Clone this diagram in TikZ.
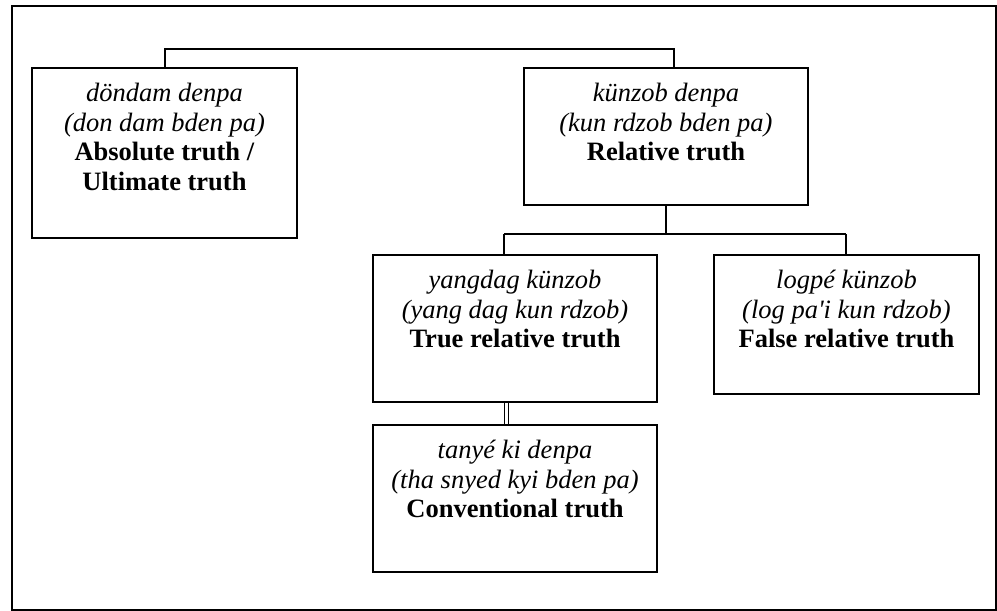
\documentclass[tikz,border=0pt]{standalone}
\usepackage{fontspec}
\setmainfont{Liberation Serif}
\begin{document}
\begin{tikzpicture}[x=1pt,y=-1pt,
  line width=2pt,
  box/.style={draw, rectangle, inner sep=0pt, anchor=north west},
  txt/.style={anchor=north, inner sep=0pt, align=center, font=\fontsize{26.5}{29.5}\selectfont},
  conn/.style={draw, line width=2pt},
  dbl/.style={draw, double, double distance=2.2pt, line width=1.1pt}]
\useasboundingbox (0,0) rectangle (997,611);
% outer frame
\draw[line width=2pt] (12,6) rectangle (995.5,609.5);
% boxes
\node[box, minimum width=265pt, minimum height=170pt] (abs) at (31,67) {};
\node[box, minimum width=284pt, minimum height=137pt] (rel) at (523,67) {};
\node[box, minimum width=284pt, minimum height=147pt] (tru) at (372,254) {};
\node[box, minimum width=265pt, minimum height=139pt] (fal) at (713,254) {};
\node[box, minimum width=284pt, minimum height=147pt] (con) at (372,424) {};
% texts
\node[txt] (absT) at ([yshift=-13pt]abs.north) {\strut\textit{döndam denpa}\\\textit{(don dam bden pa)}\\\textbf{Absolute truth /}\\\textbf{Ultimate truth}};
\node[txt] (relT) at ([yshift=-13pt]rel.north) {\strut\textit{künzob denpa}\\\textit{(kun rdzob bden pa)}\\\textbf{Relative truth}};
\node[txt] (truT) at ([yshift=-13pt]tru.north) {\strut\textit{yangdag künzob}\\\textit{(yang dag kun rdzob)}\\\textbf{True relative truth}};
\node[txt] (falT) at ([yshift=-13pt]fal.north) {\strut\textit{logpé künzob}\\\textit{(log pa\textquotesingle i kun rdzob)}\\\textbf{False relative truth}};
\node[txt] (conT) at ([yshift=-13pt]con.north) {\strut\textit{tanyé ki denpa}\\\textit{(tha snyed kyi bden pa)}\\\textbf{Conventional truth}};
% connectors
\coordinate (j1) at (674,49);
\draw[conn] (abs.north) |- (j1) -- (j1 |- rel.north);
\coordinate (jl) at (504,234);
\coordinate (jr) at (845.5,234);
\draw[conn] (rel.south) -- (rel.south |- jl);
\draw[conn] (jl) -- (jr);
\draw[conn] (jl) -- (jl |- tru.north);
\draw[conn] (jr) -- (jr |- fal.north);
\coordinate (d1) at (506.5,0);
\draw[dbl] (d1 |- tru.south) -- (d1 |- con.north);
\end{tikzpicture}
\end{document}
